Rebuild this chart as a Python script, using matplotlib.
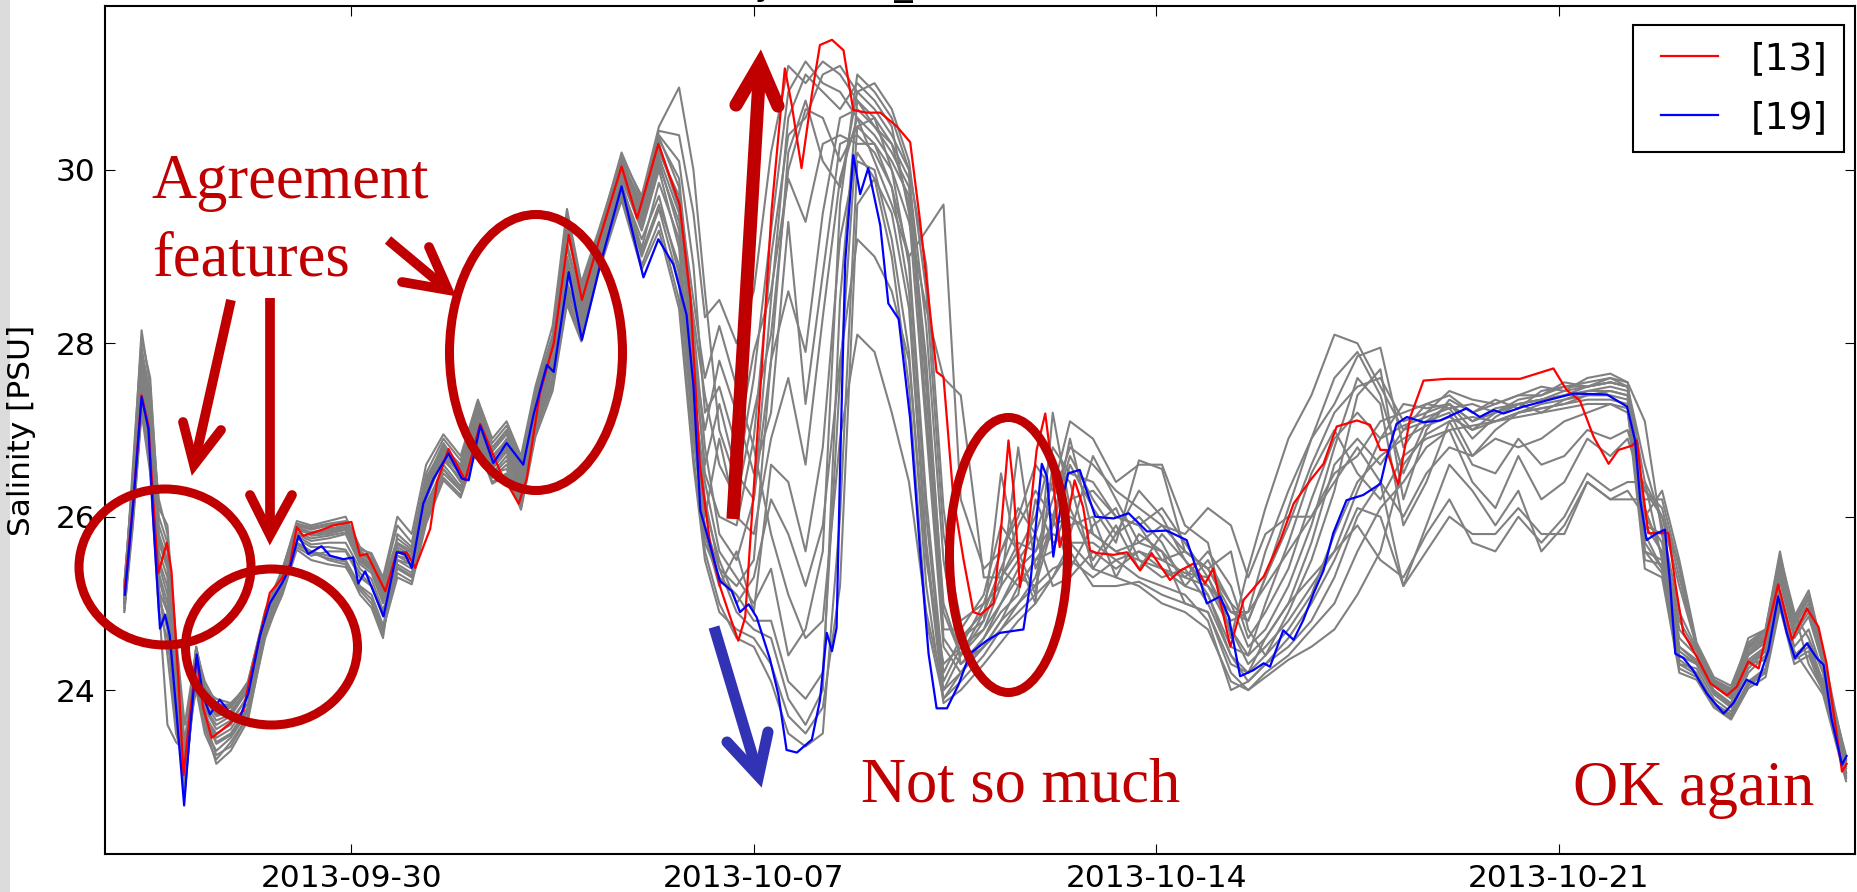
import numpy as np
import matplotlib
matplotlib.use("Agg")
import matplotlib.pyplot as plt
import matplotlib.dates as mdates
import matplotlib.transforms as mtransforms
from matplotlib.patches import Ellipse, Rectangle
from matplotlib.lines import Line2D
from matplotlib.legend_handler import HandlerLine2D
from datetime import datetime

# ---------------- data (days since 2013-09-26 00:00, salinity PSU) ----------------
start_date = datetime(2013, 9, 26)

red_points = [
    (0.06, 25.18), (0.21, 26.20), (0.35, 27.40), (0.47, 27.05), (0.55, 26.20), (0.64, 25.35), (0.79, 25.70), (0.87, 25.37), (0.99, 24.13), (1.08, 23.02),
    (1.19, 23.72), (1.31, 24.38), (1.42, 23.80), (1.57, 23.45), (1.71, 23.52), (1.89, 23.62), (2.12, 23.76), (2.23, 24.13), (2.41, 24.63), (2.58, 25.12),
    (2.79, 25.29), (2.93, 25.45), (3.05, 25.88), (3.16, 25.78), (3.45, 25.84), (3.69, 25.90), (4.00, 25.94), (4.15, 25.55), (4.27, 25.57), (4.59, 25.14),
    (4.79, 25.59), (4.96, 25.59), (5.11, 25.41), (5.37, 25.86), (5.49, 26.40), (5.69, 26.78), (5.98, 26.42), (6.24, 27.07), (6.59, 26.52), (6.91, 26.15),
    (7.05, 26.44), (7.28, 27.43), (7.52, 28.00), (7.78, 29.25), (8.01, 28.50), (8.30, 29.17), (8.70, 30.04), (8.97, 29.44), (9.34, 30.30), (9.71, 29.60),
    (9.90, 28.50), (10.06, 26.60), (10.24, 25.69), (10.41, 25.20), (10.59, 24.84), (10.73, 24.57), (10.85, 24.84), (10.96, 25.93), (11.14, 27.73), (11.31, 29.54),
    (11.46, 30.62), (11.54, 31.17), (11.66, 30.75), (11.83, 30.02), (12.01, 30.87), (12.15, 31.44), (12.36, 31.50), (12.56, 31.38), (12.73, 30.69), (12.96, 30.66),
    (13.20, 30.66), (13.49, 30.50), (13.72, 30.32), (13.89, 29.42), (14.07, 28.34), (14.18, 27.67), (14.30, 27.61), (14.47, 26.23), (14.65, 25.50), (14.82, 24.90),
    (14.94, 24.87), (15.17, 25.00), (15.28, 25.69), (15.43, 26.88), (15.52, 26.31), (15.63, 25.19), (15.75, 25.69), (15.92, 26.77), (16.07, 27.19), (16.18, 26.61),
    (16.32, 25.65), (16.44, 25.92), (16.58, 26.42), (16.73, 26.11), (16.85, 25.61), (16.97, 25.58), (17.26, 25.56), (17.49, 25.59), (17.72, 25.38), (17.92, 25.58),
    (18.24, 25.27), (18.42, 25.38), (18.65, 25.46), (18.85, 25.23), (18.99, 25.40), (19.29, 24.50), (19.52, 25.04), (19.87, 25.31), (20.16, 25.73), (20.39, 26.15),
    (20.68, 26.42), (20.91, 26.61), (21.14, 27.04), (21.49, 27.11), (21.72, 27.06), (21.90, 26.77), (22.01, 26.77), (22.21, 26.37), (22.42, 27.15), (22.65, 27.57),
    (23.05, 27.59), (23.63, 27.59), (24.33, 27.59), (24.91, 27.71), (25.14, 27.46), (25.37, 27.34), (25.61, 26.92), (25.87, 26.61), (26.04, 26.77), (26.28, 26.82),
    (26.36, 26.88), (26.45, 26.38), (26.56, 25.81), (26.91, 25.81), (27.03, 25.23), (27.17, 24.66), (27.40, 24.39), (27.64, 24.08), (27.93, 23.94), (28.10, 24.04),
    (28.30, 24.33), (28.48, 24.25), (28.62, 24.66), (28.82, 25.22), (29.06, 24.58), (29.32, 24.94), (29.52, 24.73), (29.66, 24.31), (29.93, 23.06), (30.01, 23.15),
]

blue_points = [
    (0.06, 25.10), (0.21, 26.19), (0.35, 27.38), (0.47, 27.01), (0.55, 25.99), (0.67, 24.71), (0.76, 24.87), (0.84, 24.63), (0.96, 23.72), (1.09, 22.67),
    (1.19, 23.52), (1.31, 24.41), (1.42, 23.93), (1.54, 23.72), (1.71, 23.89), (1.86, 23.76), (2.06, 23.68), (2.21, 23.97), (2.41, 24.63), (2.58, 25.00),
    (2.79, 25.23), (2.93, 25.41), (3.08, 25.78), (3.25, 25.57), (3.48, 25.66), (3.63, 25.55), (3.86, 25.51), (4.03, 25.53), (4.12, 25.23), (4.24, 25.37),
    (4.56, 24.85), (4.79, 25.59), (4.93, 25.57), (5.05, 25.41), (5.25, 26.15), (5.43, 26.44), (5.69, 26.73), (5.92, 26.44), (6.04, 26.42), (6.24, 27.05),
    (6.47, 26.62), (6.70, 26.85), (6.99, 26.60), (7.17, 27.18), (7.40, 27.75), (7.52, 27.67), (7.78, 28.82), (8.01, 28.04), (8.33, 28.91), (8.70, 29.81),
    (9.08, 28.76), (9.34, 29.20), (9.60, 28.91), (9.83, 28.33), (9.95, 27.51), (10.07, 26.07), (10.18, 25.81), (10.41, 25.26), (10.62, 25.14), (10.76, 24.90),
    (10.91, 24.99), (11.05, 24.84), (11.28, 24.36), (11.43, 23.94), (11.57, 23.31), (11.75, 23.28), (12.01, 23.43), (12.15, 23.88), (12.27, 24.66), (12.36, 24.45),
    (12.44, 24.72), (12.50, 26.53), (12.59, 28.94), (12.73, 30.17), (12.85, 29.72), (12.99, 30.02), (13.20, 29.36), (13.34, 28.46), (13.52, 28.28), (13.72, 27.13),
    (13.89, 25.62), (14.04, 24.42), (14.18, 23.79), (14.36, 23.79), (14.56, 24.06), (14.76, 24.42), (15.05, 24.57), (15.28, 24.66), (15.69, 24.70), (15.81, 25.23),
    (16.01, 26.61), (16.10, 26.46), (16.21, 25.54), (16.33, 26.08), (16.47, 26.50), (16.67, 26.54), (16.94, 26.00), (17.26, 25.98), (17.52, 26.04), (17.84, 25.83),
    (18.18, 25.84), (18.53, 25.73), (18.71, 25.38), (18.88, 25.00), (19.11, 25.08), (19.26, 24.85), (19.46, 24.16), (19.69, 24.23), (19.87, 24.31), (19.98, 24.27),
    (20.21, 24.69), (20.39, 24.58), (20.56, 24.81), (20.74, 25.12), (20.91, 25.38), (21.08, 25.81), (21.31, 26.19), (21.60, 26.25), (21.90, 26.38), (22.01, 26.69),
    (22.18, 27.07), (22.36, 27.15), (22.65, 27.09), (22.94, 27.11), (23.40, 27.25), (23.63, 27.15), (23.87, 27.23), (24.04, 27.19), (24.39, 27.27), (24.79, 27.34),
    (25.26, 27.42), (25.84, 27.41), (26.19, 27.27), (26.33, 26.88), (26.42, 26.19), (26.53, 25.73), (26.71, 25.81), (26.85, 25.85), (26.94, 25.23), (27.03, 24.42),
    (27.17, 24.37), (27.34, 24.23), (27.58, 23.96), (27.87, 23.73), (28.04, 23.85), (28.27, 24.12), (28.45, 24.06), (28.65, 24.46), (28.82, 25.08), (28.97, 24.66),
    (29.11, 24.37), (29.32, 24.54), (29.49, 24.37), (29.61, 24.29), (29.75, 23.66), (29.93, 23.14), (30.01, 23.24),
]

gray_days = [
    0.05, 0.2, 0.35, 0.5, 0.65, 0.8, 0.95, 1.1, 1.3, 1.45, 1.65, 1.9, 2.2, 2.5, 2.8, 3.05, 3.3, 3.6, 3.9, 4.15, 4.35, 4.55,
    4.8, 5.05, 5.3, 5.6, 5.9, 6.2, 6.45, 6.7, 6.95, 7.2, 7.5, 7.75, 8.0, 8.3, 8.7, 9.05, 9.35, 9.7, 9.95,
    10.15, 10.4, 10.7, 11.0, 11.3, 11.6, 11.9, 12.2, 12.5, 12.8, 13.1, 13.4, 13.7, 14.0, 14.3, 14.6, 15.0, 15.3, 15.6, 15.9, 16.2, 16.5,
    16.9, 17.3, 17.7, 18.1, 18.5, 18.9, 19.3, 19.6, 19.9, 20.3, 20.7, 21.1, 21.5, 21.9, 22.3, 22.7, 23.1, 23.5, 23.9, 24.3, 24.7, 25.1, 25.5, 25.9, 26.2, 26.5,
    26.8, 27.1, 27.4, 27.7, 28.0, 28.3, 28.6, 28.85, 29.1, 29.35, 29.6, 29.8, 30.0,
]

gray_01 = [
    25.2, 26.5, 28.15, 27.5, 26.1, 25.9, 24.5, 23.4, 24.5, 24.0, 23.9, 23.85, 24.05, 24.9, 25.38, 25.95, 25.9, 25.95, 26.0, 25.65, 25.55, 25.25,
    25.9, 25.7, 26.5, 26.9, 26.65, 27.3, 26.85, 27.05, 26.65, 27.45, 28.1, 29.5, 28.65, 29.25, 30.2, 29.65, 30.45, 30.4, 29.5,
    28.3, 28.5, 28.0, 28.6, 30.2, 31.2, 31.0, 31.25, 31.1, 30.8, 30.5, 30.3, 29.9, 28.2, 25.5, 24.3, 24.5, 24.8, 25.2, 25.5, 25.6, 26.2,
    26.3, 26.0, 25.9, 26.1, 25.7, 25.3, 24.8, 24.9, 25.6, 26.3, 26.9, 27.3, 27.85, 27.95, 26.8, 27.2, 27.45, 27.35, 27.3, 27.4, 27.5, 27.45, 27.6, 27.65, 27.55, 25.9,
    25.6, 24.5, 24.35, 24.0, 23.85, 24.35, 24.5, 25.35, 24.75, 25.0, 24.35, 23.7, 23.15,
]
gray_02 = [
    25.1, 26.3, 27.85, 27.2, 25.8, 25.5, 24.3, 23.2, 24.4, 23.9, 23.7, 23.75, 24.0, 24.85, 25.3, 25.9, 25.85, 25.9, 25.92, 25.6, 25.5, 25.2,
    25.7, 25.6, 26.4, 26.85, 26.55, 27.2, 26.75, 26.95, 26.5, 27.35, 28.0, 29.3, 28.55, 29.2, 30.1, 29.55, 30.35, 29.9, 28.2,
    26.8, 25.8, 25.5, 26.2, 28.5, 30.6, 31.1, 30.9, 30.7, 31.0, 30.8, 30.5, 29.5, 27.0, 24.5, 24.2, 24.6, 25.0, 25.3, 25.2, 25.9, 26.9,
    25.8, 25.6, 25.5, 25.4, 25.3, 25.6, 25.2, 24.6, 24.9, 25.4, 26.2, 26.9, 27.2, 26.9, 27.3, 27.25, 27.3, 27.1, 27.25, 27.3, 27.35, 27.4, 27.45, 27.5, 27.45, 25.6,
    25.5, 24.4, 24.3, 23.95, 23.8, 24.3, 24.45, 25.25, 24.6, 24.85, 24.3, 23.65, 23.1,
]
gray_03 = [
    25.0, 26.2, 27.7, 27.0, 25.5, 25.2, 24.1, 23.0, 24.3, 23.8, 23.6, 23.7, 24.0, 24.8, 25.3, 25.85, 25.8, 25.85, 25.88, 25.55, 25.45, 25.1,
    25.6, 25.5, 26.3, 26.8, 26.5, 27.1, 26.7, 26.85, 26.45, 27.25, 27.9, 29.1, 28.45, 29.15, 30.05, 29.5, 30.25, 29.6, 27.6,
    26.2, 25.4, 25.2, 25.5, 27.8, 30.2, 30.8, 30.1, 29.8, 30.9, 31.0, 30.7, 30.1, 28.6, 25.8, 24.8, 25.0, 25.6, 26.1, 25.8, 26.4, 25.9,
    26.0, 25.3, 25.8, 25.6, 25.0, 24.9, 24.3, 24.2, 24.6, 25.0, 25.7, 26.6, 26.9, 26.6, 27.0, 27.1, 27.2, 26.7, 27.0, 27.2, 27.3, 27.35, 27.4, 27.45, 27.4, 25.8,
    25.4, 24.3, 24.25, 23.9, 23.75, 24.2, 24.4, 25.15, 24.5, 24.7, 24.2, 23.6, 23.05,
]
gray_04 = [
    24.95, 26.0, 27.5, 26.8, 25.3, 24.9, 23.9, 22.9, 24.2, 23.7, 23.5, 23.6, 23.95, 24.75, 25.25, 25.8, 25.72, 25.75, 25.8, 25.45, 25.35, 25.0,
    25.5, 25.45, 26.2, 26.7, 26.4, 27.05, 26.6, 26.8, 26.35, 27.15, 27.8, 28.9, 28.35, 29.05, 29.95, 29.4, 30.1, 29.3, 27.9,
    27.0, 27.8, 27.2, 26.5, 27.2, 29.4, 27.3, 28.8, 30.3, 30.4, 30.2, 29.8, 29.0, 26.2, 24.2, 24.6, 24.8, 26.5, 25.5, 25.0, 27.2, 26.1,
    25.5, 25.9, 25.4, 25.8, 25.5, 25.1, 24.5, 24.4, 25.0, 25.7, 26.5, 27.0, 26.5, 26.2, 26.7, 26.9, 27.0, 26.4, 26.1, 26.7, 26.2, 26.4, 26.9, 26.7, 26.9, 26.3,
    26.0, 25.2, 24.5, 24.1, 23.95, 24.5, 24.65, 25.5, 24.85, 25.15, 24.45, 23.8, 23.2,
]
gray_05 = [
    25.25, 26.4, 27.6, 27.2, 26.2, 25.8, 24.6, 23.6, 24.45, 24.1, 23.85, 23.8, 24.1, 24.9, 25.35, 25.9, 25.78, 25.8, 25.85, 25.5, 25.4, 25.05,
    25.45, 25.35, 26.1, 26.6, 26.35, 26.95, 26.5, 26.7, 26.3, 27.05, 27.7, 28.8, 28.3, 29.0, 29.9, 29.3, 30.0, 29.1, 27.2,
    26.0, 26.9, 26.0, 25.8, 26.9, 27.6, 26.6, 28.3, 29.9, 30.6, 30.4, 30.1, 29.7, 27.8, 24.9, 24.4, 24.7, 25.2, 26.8, 25.4, 25.9, 26.6,
    26.1, 25.7, 26.65, 26.55, 25.6, 25.4, 25.6, 24.7, 24.4, 24.9, 25.5, 26.3, 27.4, 27.7, 26.2, 27.0, 27.35, 27.2, 27.35, 27.25, 27.45, 27.5, 27.5, 27.55, 27.5, 26.0,
    25.7, 24.6, 24.4, 24.05, 23.9, 24.45, 24.6, 25.45, 24.8, 25.1, 24.4, 23.75, 23.2,
]
gray_06 = [
    25.0, 26.1, 27.3, 26.6, 25.0, 23.6, 23.4, 23.3, 24.0, 23.5, 23.2, 23.4, 23.7, 24.6, 25.15, 25.65, 25.55, 25.6, 25.6, 25.3, 25.2, 24.9,
    25.4, 25.3, 26.0, 26.5, 26.3, 26.9, 26.45, 26.6, 26.2, 26.95, 27.6, 28.6, 28.2, 28.9, 29.8, 29.2, 29.7, 28.8, 26.9,
    25.8, 25.2, 25.6, 24.9, 26.6, 26.4, 25.6, 26.8, 29.2, 30.2, 29.9, 29.5, 28.4, 25.6, 23.9, 24.1, 24.4, 24.7, 25.0, 25.2, 25.4, 25.5,
    25.3, 25.5, 25.3, 25.2, 25.1, 24.8, 24.0, 24.1, 24.3, 24.5, 24.8, 25.3, 26.0, 26.4, 25.2, 25.9, 26.6, 26.3, 25.9, 26.3, 25.6, 25.9, 26.4, 26.2, 26.3, 26.0,
    26.3, 25.5, 24.55, 24.15, 24.05, 24.55, 24.7, 25.55, 24.9, 24.3, 24.0, 23.5, 23.0,
]
gray_07 = [
    24.9, 25.9, 27.2, 26.5, 24.9, 24.6, 23.7, 22.85, 24.3, 23.75, 23.4, 23.5, 23.8, 24.7, 25.2, 25.7, 25.6, 25.55, 25.5, 25.2, 25.1, 24.75,
    25.35, 25.25, 25.95, 26.45, 26.25, 26.85, 26.4, 26.5, 26.1, 27.0, 27.5, 28.5, 28.05, 28.85, 29.7, 28.9, 29.4, 28.5, 26.7,
    25.6, 25.0, 24.6, 24.5, 24.1, 23.5, 23.35, 23.5, 26.0, 30.1, 30.0, 29.2, 27.9, 25.2, 23.85, 24.0, 24.3, 24.55, 24.8, 25.0, 25.3, 25.6,
    25.2, 25.2, 25.25, 25.1, 25.0, 24.9, 24.2, 24.0, 24.15, 24.35, 24.5, 24.7, 25.1, 25.6, 26.6, 26.95, 27.1, 27.15, 27.1, 27.2, 27.25, 27.3, 27.35, 27.35, 27.3, 25.6,
    25.35, 24.25, 24.15, 23.82, 23.68, 24.05, 24.2, 25.0, 24.35, 24.45, 24.0, 23.5, 23.0,
]
gray_08 = [
    25.05, 26.1, 27.45, 26.75, 25.15, 24.9, 23.8, 22.8, 24.35, 23.6, 23.15, 23.3, 23.65, 24.65, 25.1, 25.62, 25.5, 25.45, 25.42, 25.15, 25.0, 24.65,
    25.5, 25.4, 26.15, 26.55, 26.3, 26.9, 26.5, 26.55, 26.15, 26.95, 27.55, 28.55, 28.1, 28.85, 29.75, 29.0, 29.55, 28.7, 27.0,
    25.9, 25.4, 24.9, 24.7, 24.6, 23.9, 23.6, 24.0, 28.5, 30.8, 30.6, 30.0, 28.9, 26.0, 24.1, 24.5, 25.0, 25.2, 25.5, 25.8, 25.2, 25.3,
    25.6, 25.4, 25.6, 25.5, 25.35, 25.3, 24.7, 24.3, 24.5, 24.8, 25.2, 25.6, 26.3, 26.9, 27.05, 27.15, 27.25, 26.9, 27.15, 27.3, 27.2, 27.35, 27.45, 27.45, 27.4, 25.5,
    25.45, 24.35, 24.2, 23.85, 23.72, 24.1, 24.25, 25.05, 24.4, 24.55, 24.1, 23.55, 23.05,
]
gray_09 = [
    25.15, 26.25, 27.9, 27.3, 25.6, 25.3, 24.2, 23.1, 24.4, 24.0, 23.75, 23.8, 24.05, 24.85, 25.32, 25.88, 25.82, 25.86, 25.9, 25.58, 25.48, 25.15,
    25.55, 25.5, 26.25, 26.65, 26.45, 27.0, 26.55, 26.75, 26.25, 27.1, 27.75, 28.7, 28.25, 28.95, 29.85, 29.1, 29.85, 29.2, 27.4,
    26.4, 25.6, 25.3, 25.0, 25.4, 24.4, 24.7, 25.6, 29.6, 31.1, 30.9, 30.6, 30.0, 27.5, 24.6, 24.3, 24.6, 24.9, 25.1, 26.2, 25.7, 25.8,
    26.7, 26.2, 25.7, 25.9, 25.8, 26.1, 25.9, 25.3, 25.8, 26.0, 26.0, 26.5, 26.7, 27.1, 27.2, 27.3, 27.25, 27.3, 27.2, 27.35, 27.4, 27.55, 27.5, 27.6, 27.55, 27.1,
    25.8, 24.7, 24.45, 24.08, 23.92, 24.4, 24.55, 25.4, 24.7, 24.95, 24.4, 23.7, 23.2,
]
gray_10 = [
    25.0, 26.0, 27.3, 26.6, 25.1, 24.7, 23.6, 23.0, 24.1, 23.55, 23.3, 23.45, 23.75, 24.7, 25.18, 25.75, 25.65, 25.65, 25.62, 25.35, 25.2, 24.85,
    25.65, 25.55, 26.35, 26.75, 26.5, 27.15, 26.65, 26.9, 26.4, 27.2, 27.85, 29.0, 28.4, 29.1, 30.0, 29.45, 30.2, 29.7, 28.5,
    27.6, 28.2, 27.5, 26.8, 25.8, 25.1, 24.6, 24.8, 26.9, 28.1, 27.9, 27.2, 26.4, 24.9, 24.0, 24.2, 24.5, 24.8, 25.0, 25.3, 26.0, 25.4,
    25.9, 26.1, 25.5, 25.3, 25.4, 25.0, 24.4, 24.1, 24.3, 24.6, 25.0, 25.5, 26.1, 26.0, 25.2, 25.6, 26.0, 25.8, 25.8, 26.1, 25.8, 25.8, 26.4, 26.2, 26.2, 26.2,
    26.2, 25.4, 24.5, 24.12, 24.0, 24.3, 24.35, 25.05, 24.45, 24.2, 23.95, 23.45, 22.95,
]
gray_11 = [
    25.1, 26.6, 28.05, 27.6, 26.0, 25.7, 24.4, 23.3, 24.5, 24.05, 23.8, 23.82, 24.08, 24.92, 25.4, 25.92, 25.88, 25.92, 25.95, 25.62, 25.58, 25.3,
    26.0, 25.8, 26.6, 26.95, 26.7, 27.35, 26.9, 27.1, 26.7, 27.5, 28.2, 29.55, 28.7, 29.3, 30.15, 29.7, 30.5, 30.95, 30.0,
    28.6, 27.0, 26.4, 27.6, 29.3, 30.9, 31.25, 31.0, 30.9, 30.6, 30.1, 29.6, 29.0, 29.3, 29.6, 26.2, 25.4, 25.6, 26.0, 26.6, 26.3, 27.1,
    26.9, 26.4, 26.6, 26.6, 25.9, 25.7, 24.6, 25.4, 26.1, 26.9, 27.4, 28.1, 28.0, 27.5, 27.0, 27.3, 27.4, 27.2, 27.3, 27.4, 27.4, 27.5, 27.55, 27.6, 27.5, 26.4,
    25.5, 24.45, 24.3, 23.98, 23.82, 24.25, 24.45, 25.3, 24.65, 24.9, 24.3, 23.6, 23.1,
]
gray_12 = [
    24.95, 26.05, 27.4, 26.7, 25.2, 24.4, 23.5, 23.15, 24.2, 23.65, 23.25, 23.35, 23.7, 24.68, 25.15, 25.7, 25.6, 25.5, 25.45, 25.1, 24.95, 24.6,
    25.8, 25.65, 26.45, 26.8, 26.6, 27.25, 26.8, 27.0, 26.6, 27.4, 28.05, 29.4, 28.6, 29.25, 30.1, 29.6, 30.4, 30.1, 28.9,
    27.2, 27.5, 26.8, 27.9, 28.6, 29.9, 29.4, 30.3, 30.4, 30.3, 30.3, 30.0, 29.4, 28.4, 27.6, 27.4, 25.3, 25.3, 25.6, 25.1, 26.6, 26.4,
    25.4, 25.8, 26.0, 25.7, 25.2, 25.5, 25.0, 24.5, 24.7, 25.2, 25.9, 26.8, 27.6, 27.3, 25.9, 26.4, 27.1, 26.6, 26.5, 26.9, 26.6, 26.7, 27.0, 26.9, 27.0, 26.3,
    26.1, 25.3, 24.5, 24.1, 23.98, 24.6, 24.7, 25.6, 24.8, 25.05, 24.45, 23.75, 23.25,
]
gray_13 = [
    25.1, 26.35, 27.75, 27.1, 25.7, 25.4, 24.25, 23.15, 24.38, 23.85, 23.65, 23.72, 24.0, 24.82, 25.28, 25.86, 25.8, 25.82, 25.85, 25.52, 25.42, 25.08,
    25.62, 25.52, 26.28, 26.72, 26.48, 27.08, 26.62, 26.82, 26.38, 27.18, 27.82, 28.95, 28.42, 29.08, 29.98, 29.42, 30.15, 29.5, 28.0,
    26.5, 26.0, 25.9, 26.9, 29.0, 30.4, 30.6, 31.1, 31.2, 30.9, 30.7, 30.4, 30.0, 28.9, 26.1, 24.6, 24.9, 25.4, 25.9, 26.3, 26.0, 26.7,
    26.2, 25.8, 26.3, 26.0, 25.5, 25.2, 24.9, 24.8, 25.3, 25.9, 26.6, 27.2, 27.5, 27.6, 27.1, 27.2, 27.3, 27.0, 27.2, 27.3, 27.35, 27.45, 27.5, 27.55, 27.5, 26.1,
    25.55, 24.5, 24.32, 23.98, 23.84, 24.32, 24.48, 25.3, 24.7, 24.95, 24.35, 23.68, 23.12,
]
gray_14 = [
    25.0, 26.15, 27.55, 26.9, 25.35, 25.0, 23.95, 22.95, 24.25, 23.72, 23.45, 23.55, 23.85, 24.72, 25.22, 25.78, 25.68, 25.7, 25.7, 25.4, 25.28, 24.92,
    25.42, 25.32, 26.05, 26.55, 26.32, 26.92, 26.48, 26.65, 26.25, 27.02, 27.62, 28.65, 28.15, 28.9, 29.78, 29.05, 29.6, 28.9, 27.1,
    25.7, 25.3, 25.1, 24.8, 24.8, 24.1, 23.9, 24.2, 27.6, 30.5, 30.3, 29.8, 28.6, 25.7, 24.0, 24.4, 24.9, 25.4, 25.2, 25.5, 25.8, 25.7,
    25.7, 25.5, 25.6, 25.4, 25.2, 25.1, 24.4, 24.2, 24.4, 24.7, 25.1, 25.8, 26.4, 26.7, 26.9, 27.05, 27.15, 27.0, 27.1, 27.2, 27.25, 27.3, 27.4, 27.4, 27.35, 25.7,
    25.4, 24.3, 24.18, 23.84, 23.7, 24.08, 24.22, 25.02, 24.38, 24.5, 24.05, 23.52, 23.02,
]
gray_15 = [
    25.2, 26.45, 27.95, 27.4, 25.9, 25.6, 24.4, 23.25, 24.48, 24.02, 23.82, 23.84, 24.06, 24.88, 25.36, 25.9, 25.86, 25.9, 25.94, 25.6, 25.52, 25.22,
    25.75, 25.62, 26.42, 26.82, 26.58, 27.22, 26.78, 26.98, 26.55, 27.38, 28.02, 29.35, 28.58, 29.22, 30.12, 29.6, 30.38, 29.8, 27.8,
    26.6, 27.3, 26.5, 26.2, 27.8, 28.6, 27.9, 29.5, 30.6, 30.7, 30.5, 30.2, 29.8, 27.2, 24.7, 24.7, 25.1, 25.9, 25.6, 26.0, 26.8, 26.5,
    26.4, 26.0, 25.9, 25.5, 25.6, 25.4, 24.9, 24.9, 25.2, 25.6, 26.0, 26.4, 26.8, 26.4, 26.0, 26.5, 26.8, 26.7, 26.9, 26.8, 26.9, 27.1, 27.2, 27.3, 27.2, 25.9,
    25.8, 24.8, 24.45, 24.08, 23.92, 24.42, 24.58, 25.42, 24.78, 25.05, 24.4, 23.72, 23.18,
]
gray_16 = [
    24.92, 25.95, 27.25, 26.55, 25.05, 24.75, 23.75, 22.9, 24.28, 23.7, 23.38, 23.48, 23.78, 24.7, 25.16, 25.68, 25.58, 25.52, 25.48, 25.18, 25.05, 24.7,
    25.3, 25.22, 25.92, 26.42, 26.22, 26.82, 26.38, 26.48, 26.08, 26.92, 27.45, 28.45, 28.02, 28.82, 29.65, 28.85, 29.3, 28.4, 26.6,
    25.5, 24.9, 24.7, 24.6, 24.3, 23.7, 23.5, 23.8, 25.2, 29.6, 29.9, 29.0, 27.5, 24.8, 23.9, 24.2, 24.5, 24.7, 24.9, 25.1, 25.3, 25.7,
    25.4, 25.3, 25.2, 25.0, 24.9, 24.7, 24.1, 24.0, 24.2, 24.4, 24.7, 25.0, 25.6, 26.1, 26.4, 26.8, 27.0, 27.05, 27.1, 27.15, 27.2, 27.25, 27.3, 27.3, 27.25, 25.4,
    25.3, 24.2, 24.12, 23.8, 23.66, 24.02, 24.15, 24.95, 24.3, 24.4, 23.98, 23.48, 22.98,
]
gray_17 = [
    25.05, 26.2, 27.6, 27.0, 25.45, 25.1, 24.05, 23.05, 24.32, 23.78, 23.55, 23.65, 23.92, 24.78, 25.26, 25.82, 25.75, 25.78, 25.82, 25.48, 25.38, 25.02,
    25.55, 25.45, 26.22, 26.68, 26.42, 27.02, 26.58, 26.78, 26.32, 27.12, 27.72, 28.85, 28.38, 29.02, 29.92, 29.35, 30.05, 29.4, 28.3,
    27.4, 26.6, 26.2, 27.2, 28.1, 30.0, 30.7, 30.6, 30.1, 30.5, 30.6, 30.3, 29.6, 27.6, 25.0, 24.4, 24.8, 25.3, 25.7, 25.6, 26.2, 26.8,
    26.6, 26.3, 26.1, 25.9, 25.6, 25.4, 25.0, 24.8, 25.3, 26.1, 26.9, 27.6, 27.9, 27.4, 26.5, 27.1, 27.3, 27.1, 27.2, 27.3, 27.35, 27.4, 27.5, 27.55, 27.5, 26.6,
    25.9, 24.9, 24.48, 24.1, 23.95, 24.48, 24.62, 25.48, 24.82, 25.1, 24.42, 23.76, 23.2,
]
gray_18 = [
    25.12, 26.3, 27.8, 27.15, 25.75, 25.45, 24.3, 23.2, 24.42, 23.92, 23.72, 23.76, 24.02, 24.84, 25.3, 25.86, 25.8, 25.84, 25.86, 25.54, 25.44, 25.12,
    25.68, 25.58, 26.38, 26.78, 26.52, 27.12, 26.7, 26.88, 26.48, 27.28, 27.92, 29.15, 28.5, 29.18, 30.08, 29.52, 30.3, 29.55, 27.5,
    26.1, 25.5, 25.0, 25.3, 26.2, 25.8, 25.2, 25.9, 27.8, 29.2, 29.0, 28.6, 27.8, 25.5, 24.3, 24.5, 24.7, 25.0, 25.4, 25.6, 25.9, 26.0,
    25.8, 25.6, 25.7, 25.6, 25.3, 25.2, 24.7, 24.4, 24.6, 25.0, 25.3, 25.6, 25.9, 25.5, 25.3, 25.8, 26.2, 25.7, 25.6, 26.0, 25.7, 26.0, 26.5, 26.3, 26.4, 26.4,
    26.0, 25.45, 24.52, 24.12, 24.02, 24.52, 24.68, 25.5, 24.88, 24.6, 24.2, 23.6, 23.05,
]

legend_labels = ["[13]", "[19]"]
xtick_dates = ["2013-09-30", "2013-10-07", "2013-10-14", "2013-10-21"]
ytick_vals = [24, 26, 28, 30]
ylabel_text = "Salinity [PSU]"
title_text = "Salinity red26_A"

# ---------------- figure ----------------
W, H = 1857, 892
fig = plt.figure(figsize=(W / 100, H / 100), dpi=100, facecolor="white")
ax = fig.add_axes([104.5 / W, 38 / H, (1855 - 104.5) / W, (854 - 6) / H])

t0 = mdates.date2num(start_date)

gray_members = [gray_01, gray_02, gray_03, gray_04, gray_05, gray_06, gray_07, gray_08, gray_09,
                gray_10, gray_11, gray_12, gray_13, gray_14, gray_15, gray_16, gray_17, gray_18]
gx = t0 + np.array(gray_days)
for g in gray_members:
    ax.plot(gx, g, color="#808080", lw=1.5, zorder=1, solid_joinstyle="round")

rd = np.array(red_points)
bd = np.array(blue_points)
l_red, = ax.plot(t0 + rd[:, 0], rd[:, 1], color="#ff0000", lw=1.6, zorder=2, label=legend_labels[0])
l_blue, = ax.plot(t0 + bd[:, 0], bd[:, 1], color="#0000ff", lw=1.6, zorder=3, label=legend_labels[1])

ax.set_xlim(t0 - 0.295, t0 + 30.156)
ax.set_ylim(22.11, 31.89)

ax.set_xticks([mdates.date2num(datetime.strptime(d, "%Y-%m-%d")) for d in xtick_dates])
ax.xaxis.set_major_formatter(mdates.DateFormatter("%Y-%m-%d"))
ax.set_yticks(ytick_vals)
ax.tick_params(axis="both", which="major", direction="in", top=True, right=True,
               length=7, width=0.8, labelsize=22.5, color="black")
ax.tick_params(axis="x", pad=7.5)
ax.tick_params(axis="y", pad=6.5)
for s in ax.spines.values():
    s.set_linewidth(1.5)
    s.set_color("black")

ax.set_ylabel(ylabel_text, fontsize=22.5)
ax.yaxis.set_label_coords((36 - 104.5) / (1855 - 104.5), 0.5)

leg = ax.legend(handles=[l_red, l_blue], labels=legend_labels, loc="upper right",
                bbox_to_anchor=((1844 - 104.5) / (1855 - 104.5), (854 - 25) / (854 - 6)),
                borderaxespad=0, fancybox=False, framealpha=1, edgecolor="black",
                fontsize=27, handlelength=1.84, handletextpad=0.88, borderpad=0.42,
                labelspacing=0.62, handler_map={Line2D: HandlerLine2D(xpad=0.32)})
leg.get_frame().set_linewidth(1.5)

# ---------------- overlay annotations (pixel coordinates, origin top-left) ----------------
pix = mtransforms.Affine2D().scale(1.0 / W, -1.0 / H).translate(0, 1) + fig.transFigure
dark_red = "#c00000"
arrow_blue = "#3232b4"

fig.add_artist(Rectangle((0, 0), 10, H, transform=pix, facecolor="#dcdcdc", edgecolor="none", zorder=0))

for (cx, cy, w, h) in [(165, 567, 172, 156), (271.5, 647, 172, 156), (536, 352.5, 173, 276), (1008.5, 555, 118, 275)]:
    fig.add_artist(Ellipse((cx, cy), w, h, transform=pix, fill=False, edgecolor=dark_red, lw=6.5, zorder=10))


def chevron(tail, tip, arm1, arm2, lw, color):
    fig.add_artist(Line2D([tail[0], tip[0]], [tail[1], tip[1]], transform=pix, lw=lw, color=color,
                          solid_capstyle="butt", zorder=11))
    fig.add_artist(Line2D([arm1[0], tip[0], arm2[0]], [arm1[1], tip[1], arm2[1]], transform=pix, lw=lw,
                          color=color, solid_capstyle="round", solid_joinstyle="miter", zorder=11))


chevron((231, 300), (194, 465), (183, 422), (221, 430), 7.0, dark_red)
chevron((270, 298), (270, 535), (250, 495), (292, 495), 7.0, dark_red)
chevron((388, 240), (448, 290), (429, 247), (402, 282), 7.0, dark_red)
chevron((733, 519), (760, 64), (736, 105), (778, 106), 9.5, dark_red)
chevron((714, 627), (758.5, 776), (727, 742), (768, 732), 8.0, arrow_blue)

serif = ["Liberation Serif", "DejaVu Serif"]
for (x, y, s) in [(151.8, 198, "Agreement"), (151.8, 275, "features"),
                  (861.4, 802, "Not so much"), (1573, 805, "OK again")]:
    fig.text(x / W, 1 - y / H, s, fontsize=45, family=serif, color=dark_red,
             ha="left", va="baseline", zorder=12)

fig.text(641 / W, 1 + 5.7 / H, title_text, fontsize=26.4, ha="left", va="baseline", color="black")

fig.savefig("out.png", dpi=100, facecolor="white")
